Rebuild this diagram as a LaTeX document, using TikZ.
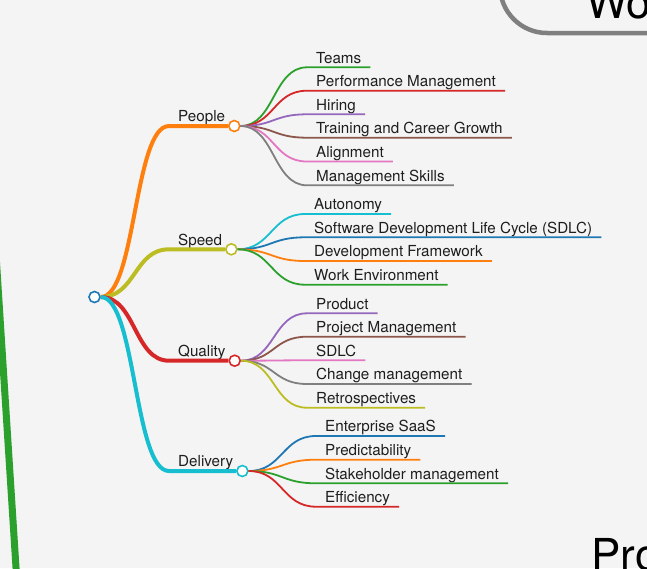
\documentclass[tikz,border=0pt]{standalone}
\usepackage{fontspec}
\setmainfont{TeX Gyre Heros}
\definecolor{tabblue}{HTML}{1F77B4}
\definecolor{taborange}{HTML}{FF7F0E}
\definecolor{tabgreen}{HTML}{2CA02C}
\definecolor{tabred}{HTML}{D62728}
\definecolor{tabpurple}{HTML}{9467BD}
\definecolor{tabbrown}{HTML}{8C564B}
\definecolor{tabpink}{HTML}{E377C2}
\definecolor{tabgray}{HTML}{7F7F7F}
\definecolor{tabolive}{HTML}{BCBD22}
\definecolor{tabcyan}{HTML}{17BECF}
\definecolor{paper}{HTML}{F4F4F4}
\definecolor{ink}{HTML}{1E1E1E}
\begin{document}
\begin{tikzpicture}[x=1pt, y=-1pt,
    branch/.style={line width=4pt},
    twig/.style={line width=1.8pt},
    topic/.style={inner xsep=9pt, inner ysep=4pt, text depth=0pt, anchor=south west, text=ink, font=\fontsize{15.2}{18}\selectfont},
    leaf/.style={topic},
    knob/.style={circle, draw=#1, fill=white, line width=1.6pt, minimum size=11pt, inner sep=0pt},
    title/.style={anchor=base west, inner sep=0pt, text=black, font=\fontsize{44}{50}\selectfont}]
      \useasboundingbox (0,0) rectangle (647,568);
      \clip (0,0) rectangle (647,568);
      \fill[paper] (0,0) rectangle (647,568);
      % neighbouring maps, cut off at the edges
      \draw[line width=4.5pt, tabgray, rounded corners=47pt] (500,-80) rectangle (720,33);
      \node[title] (work) at (586,18) {Wo};
      \node[title] (pro) at (591,570) {Pro};
      \draw[line width=7pt, tabgreen] (-4.3,250) -- (16.8,580);
      % root and topics
      \node[knob=tabblue] (root) at (94.5,297) {};
      \node[topic] (people) at (169,126) {People};
      \node[knob=taborange] (pk) at (people.south east) {};
      \node[topic] (speed) at (169,249.3) {Speed};
      \node[knob=tabolive] (sk) at (speed.south east) {};
      \node[topic] (quality) at (169,360.7) {Quality};
      \node[knob=tabred] (qk) at (quality.south east) {};
      \node[topic] (delivery) at (169,471) {Delivery};
      \node[knob=tabcyan] (dk) at (delivery.south east) {};
      \draw[branch, taborange] (root.east) .. controls +(35,0) and +(-35,0) .. (people.south west) -- (pk.west);
      \draw[branch, tabolive] (root.east) .. controls +(35,0) and +(-35,0) .. (speed.south west) -- (sk.west);
      \draw[branch, tabred] (root.east) .. controls +(35,0) and +(-35,0) .. (quality.south west) -- (qk.west);
      \draw[branch, tabcyan] (root.east) .. controls +(35,0) and +(-35,0) .. (delivery.south west) -- (dk.west);
      % People
      \node[leaf] (teams) at (307,67.3) {Teams};
      \node[leaf] (perf) at (307,90.7) {Performance Management};
      \node[leaf] (hiring) at (307,114.3) {Hiring};
      \node[leaf] (training) at (307,137.7) {Training and Career Growth};
      \node[leaf] (align) at (307,161.5) {Alignment};
      \node[leaf] (skills) at (307,185.3) {Management Skills};
      \draw[twig, tabgreen] (pk.east) .. controls +(34,0) and +(-34,0) .. (teams.south west) -- (teams.south east);
      \draw[twig, tabred] (pk.east) .. controls +(34,0) and +(-34,0) .. (perf.south west) -- (perf.south east);
      \draw[twig, tabpurple] (pk.east) .. controls +(34,0) and +(-34,0) .. (hiring.south west) -- (hiring.south east);
      \draw[twig, tabbrown] (pk.east) .. controls +(34,0) and +(-34,0) .. (training.south west) -- (training.south east);
      \draw[twig, tabpink] (pk.east) .. controls +(34,0) and +(-34,0) .. (align.south west) -- (align.south east);
      \draw[twig, tabgray] (pk.east) .. controls +(34,0) and +(-34,0) .. (skills.south west) -- (skills.south east);
      % Speed
      \node[leaf] (autonomy) at (305,214) {Autonomy};
      \node[leaf] (sdlcfull) at (305,237.3) {Software Development Life Cycle (SDLC)};
      \node[leaf] (framework) at (305,261) {Development Framework};
      \node[leaf] (workenv) at (305,284.7) {Work Environment};
      \draw[twig, tabcyan] (sk.east) .. controls +(34,0) and +(-34,0) .. (autonomy.south west) -- (autonomy.south east);
      \draw[twig, tabblue] (sk.east) .. controls +(34,0) and +(-34,0) .. (sdlcfull.south west) -- (sdlcfull.south east);
      \draw[twig, taborange] (sk.east) .. controls +(34,0) and +(-34,0) .. (framework.south west) -- (framework.south east);
      \draw[twig, tabgreen] (sk.east) .. controls +(34,0) and +(-34,0) .. (workenv.south west) -- (workenv.south east);
      % Quality
      \node[leaf] (product) at (307,313.3) {Product};
      \node[leaf] (project) at (307,336.7) {Project Management};
      \node[leaf] (sdlc) at (307,360.3) {SDLC};
      \node[leaf] (change) at (307,384) {Change management};
      \node[leaf] (retro) at (307,407.7) {Retrospectives};
      \draw[twig, tabpurple] (qk.east) .. controls +(34,0) and +(-34,0) .. (product.south west) -- (product.south east);
      \draw[twig, tabbrown] (qk.east) .. controls +(34,0) and +(-34,0) .. (project.south west) -- (project.south east);
      \draw[twig, tabpink] (qk.east) .. controls +(34,0) and +(-34,0) .. (sdlc.south west) -- (sdlc.south east);
      \draw[twig, tabgray] (qk.east) .. controls +(34,0) and +(-34,0) .. (change.south west) -- (change.south east);
      \draw[twig, tabolive] (qk.east) .. controls +(34,0) and +(-34,0) .. (retro.south west) -- (retro.south east);
      % Delivery
      \node[leaf] (saas) at (316,436) {Enterprise SaaS};
      \node[leaf] (predict) at (316,459.7) {Predictability};
      \node[leaf] (stake) at (316,483.3) {Stakeholder management};
      \node[leaf] (effic) at (316,506.7) {Efficiency};
      \draw[twig, tabblue] (dk.east) .. controls +(34,0) and +(-34,0) .. (saas.south west) -- (saas.south east);
      \draw[twig, taborange] (dk.east) .. controls +(34,0) and +(-34,0) .. (predict.south west) -- (predict.south east);
      \draw[twig, tabgreen] (dk.east) .. controls +(34,0) and +(-34,0) .. (stake.south west) -- (stake.south east);
      \draw[twig, tabred] (dk.east) .. controls +(34,0) and +(-34,0) .. (effic.south west) -- (effic.south east);
    \end{tikzpicture}
\end{document}
